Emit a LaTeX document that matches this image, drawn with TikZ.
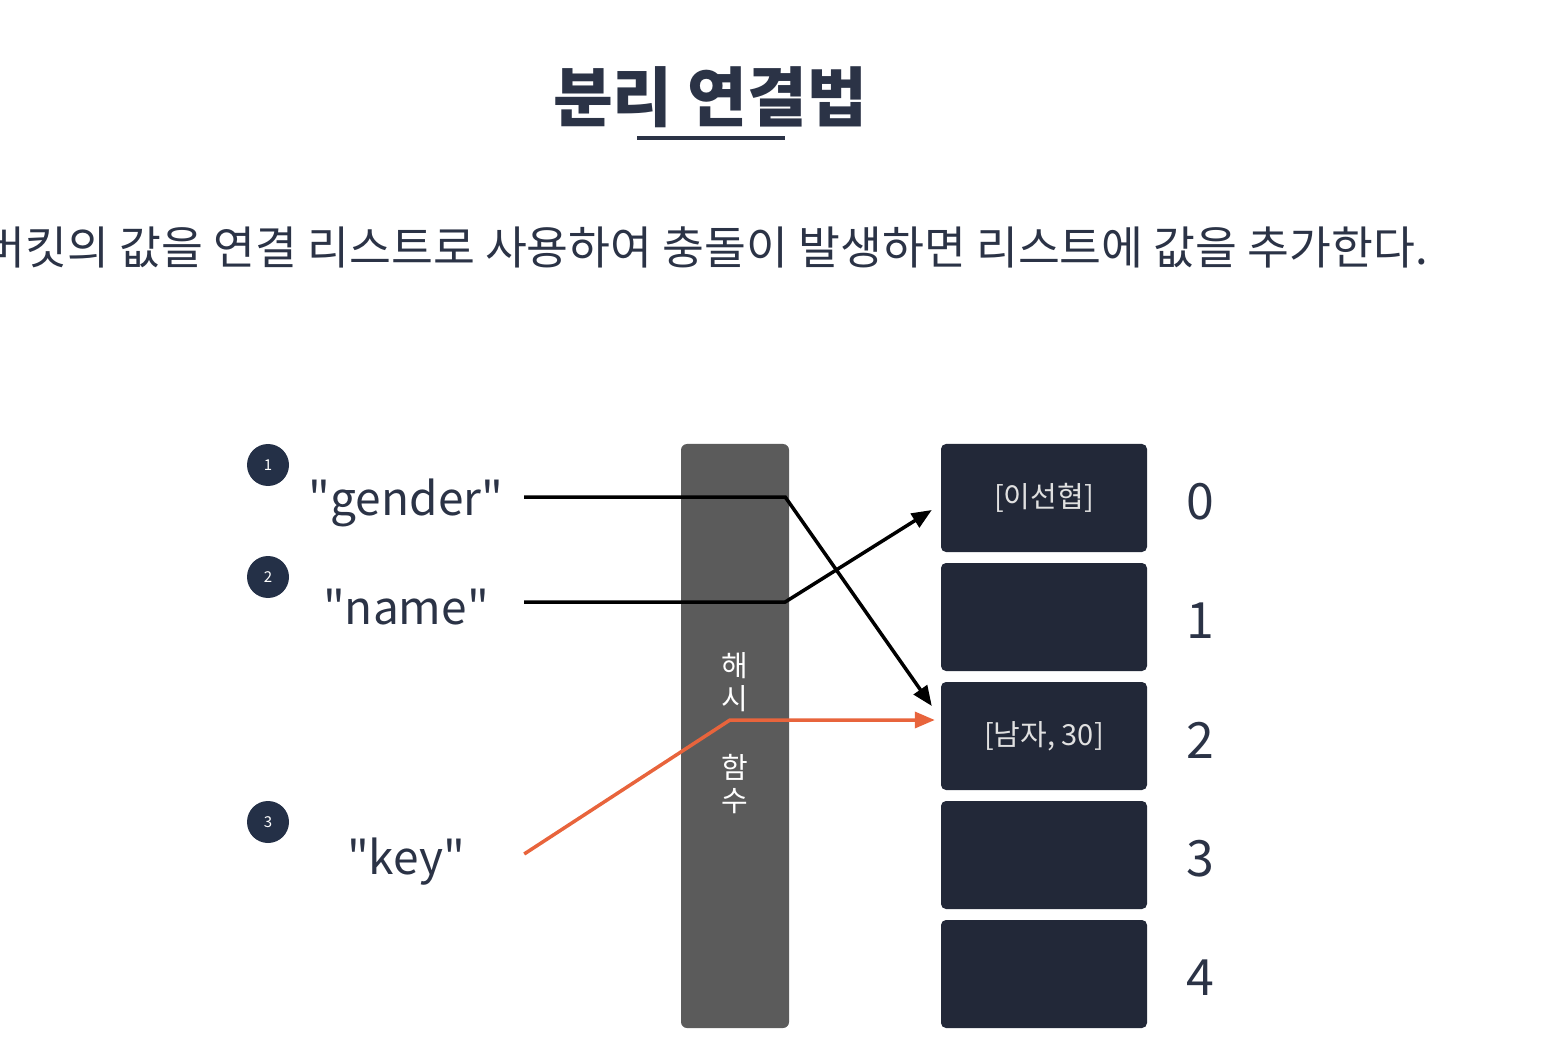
\documentclass[tikz,border=0pt]{standalone}
\usepackage{fontspec}
\setmainfont{Noto Sans CJK KR}
\usetikzlibrary{arrows.meta,calc}

\definecolor{inkblue}{HTML}{2B3346}
\definecolor{badgeblue}{HTML}{243047}
\definecolor{bucketblue}{HTML}{222838}
\definecolor{hashgray}{HTML}{5B5B5B}
\definecolor{hitorange}{HTML}{E8643C}

\newcommand{\qkey}[1]{\textquotedbl#1\textquotedbl}

\tikzset{
  badge/.style={circle,fill=badgeblue,minimum size=42pt,inner sep=0pt,
    text=white,font=\fontsize{15}{15}\selectfont},
  keyword/.style={minimum width=236pt,inner sep=0pt,text=inkblue,
    font=\fontsize{46}{46}\selectfont},
  bucket/.style={rounded corners=5pt,fill=bucketblue,minimum width=206pt,
    minimum height=108pt,inner sep=0pt,text=white!88!black,
    font=\fontsize{29}{29}\selectfont},
  idx/.style={text=inkblue,font=\fontsize{50}{50}\selectfont},
  link/.style={line width=3.5pt,-{Triangle[length=20pt,width=16pt]}},
}

\begin{document}
\begin{tikzpicture}[x=1pt,y=-1pt]
      \useasboundingbox (0,0) rectangle (1556,1040);

      %%%%%%%%%%%%%%%%%%%%%%%%%%%%%%%%%%%%%%%%%%%%%%%%%%%%%%%%%%%%%%%%%%%%%%%%%%%
      %%%%  Title
      \node[text=inkblue,font=\fontsize{65}{65}\selectfont\bfseries] (title)
        at (710,97) {분리 연결법};
      \draw[line width=4pt,inkblue] (637,138) -- (785,138);

      \node[anchor=east,inner sep=0pt,text=inkblue,font=\fontsize{45.5}{45.5}\selectfont]
        (subtitle) at (1428,247)
        {버킷의 값을 연결 리스트로 사용하여 충돌이 발생하면 리스트에 값을 추가한다.};

      %%%%%%%%%%%%%%%%%%%%%%%%%%%%%%%%%%%%%%%%%%%%%%%%%%%%%%%%%%%%%%%%%%%%%%%%%%%
      %%%%  Keys
      \foreach \n/\y in {1/465,2/577,3/822}
      {\node[badge] (c\n) at (268,\y) {\n};};

      \node[keyword] (gender) at (406,503) {\qkey{gender}};
      \node[keyword] (name) at (406,607) {\qkey{name}};
      \node[keyword] (key) at (406,862) {\qkey{key}};

      %%%%%%%%%%%%%%%%%%%%%%%%%%%%%%%%%%%%%%%%%%%%%%%%%%%%%%%%%%%%%%%%%%%%%%%%%%%
      %%%%  Hash function
      \node[rounded corners=6pt,fill=hashgray,minimum width=108pt,
        minimum height=584pt,inner sep=0pt] (hash) at (735,736) {};
      \node[text=white,align=center,font=\fontsize{29}{33}\selectfont]
        (hashlbl) at (735,733) {해\\시\\[36pt]함\\수};

      %%%%%%%%%%%%%%%%%%%%%%%%%%%%%%%%%%%%%%%%%%%%%%%%%%%%%%%%%%%%%%%%%%%%%%%%%%%
      %%%%  Buckets
      \foreach \i/\txt in {0/{[이선협]},1/{},2/{[남자, 30]},3/{},4/{}}
      {\node[bucket] (b\i) at (1044,{498+119*\i}) {\txt};
       \node[idx] (n\i) at (1200,{502+119*\i}) {\i};
      };

      %%%%%%%%%%%%%%%%%%%%%%%%%%%%%%%%%%%%%%%%%%%%%%%%%%%%%%%%%%%%%%%%%%%%%%%%%%%
      %%%%  Links
      \draw[link] ($(gender.east)+(0,-6)$) -- ($(hash.east |- gender.east)+(-4,-6)$)
        -- ($(b2.west)+(-9,-30)$);
      \draw[link] ($(name.east)+(0,-5)$) -- ($(hash.east |- name.east)+(-4,-5)$)
        -- ($(b0.west)+(-9,12)$);
      \draw[link,hitorange] ($(key.east)+(0,-8)$)
        -- ($(hash.center |- b2.west)+(-5,-16)$) -- ($(b2.west)+(-6,-16)$);
    \end{tikzpicture}
\end{document}
